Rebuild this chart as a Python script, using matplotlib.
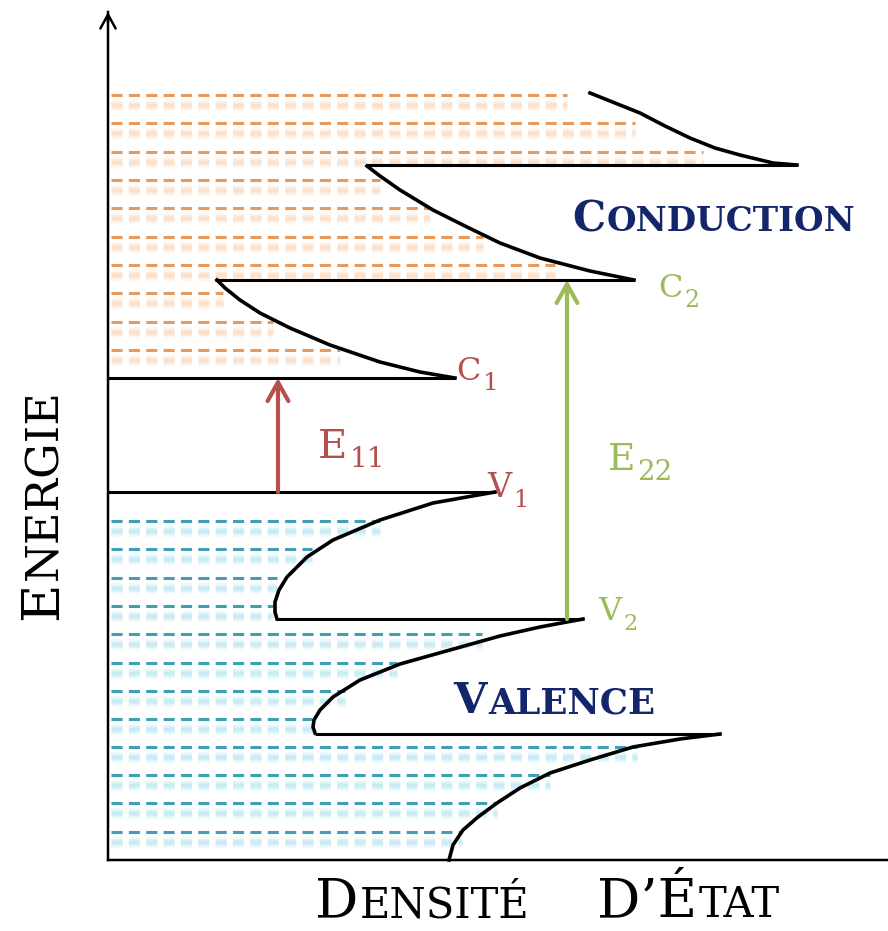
import matplotlib
matplotlib.use("Agg")
import matplotlib.pyplot as plt
from matplotlib import patheffects as pe
from matplotlib.transforms import IdentityTransform

plt.rcParams['font.family'] = ['DejaVu Serif']
plt.rcParams['lines.scale_dashes'] = False

# ---------------- data (x = densité d'état, y = énergie) ----------------
# conduction sub-bands: level energy, start of level line, DOS curve (tip first)
c_levels = [482, 580, 695]
c_level_starts = [0, 107, 258]
c1_x = [347, 312, 272, 222, 182, 152, 132, 117, 109]
c1_y = [482, 488, 498, 515, 532, 547, 560, 572, 580]
c2_x = [526, 482, 432, 392, 359, 325, 292, 272, 259]
c2_y = [580, 589, 602, 617, 633, 650, 670, 684, 694]
c3_x = [689, 665, 632, 607, 582, 557, 532, 507, 482]
c3_y = [695, 697, 705, 712, 722, 734, 747, 757, 767]

# valence sub-bands
v_levels = [368, 241, 126]
v_level_starts = [0, 169, 207]
v1_x = [387, 325, 272, 225, 199, 179, 171, 167, 167, 169]
v1_y = [368, 357, 340, 320, 303, 283, 270, 258, 248, 241]
v2_x = [475, 432, 392, 342, 292, 252, 225, 212, 206, 205, 207]
v2_y = [241, 233, 224, 210, 196, 180, 163, 150, 140, 133, 127]
v3_x = [612, 572, 525, 482, 442, 412, 389, 370, 355, 345, 341]
v3_y = [126, 121, 113, 100, 87, 72, 57, 43, 30, 15, 0]

# occupied states (dashed rows)
cond_rows_y = [765, 737, 708, 680, 652, 623, 595, 567, 538, 510]
cond_rows_end = [459, 527, 595, 272, 322, 375, 447, 115, 165, 232]
val_rows_y = [339, 311, 282, 254, 226, 197, 169, 141, 113, 85, 57, 28]
val_rows_end = [272, 204, 169, 165, 374, 289, 237, 204, 529, 442, 389, 354]

# transitions
e11_x, e11_from, e11_to = 170, 368, 482
e22_x, e22_from, e22_to = 459, 241, 580

# level labels: letter, index
label_main = ['C', 'C', 'V', 'V', 'E', 'E']
label_sub = ['1', '2', '1', '2', '11', '22']

RED = '#B5504D'
GREEN = '#9BBB59'
NAVY = '#13266B'
ORANGE = '#E89A5C'
ORANGE_SH = '#F8BC8C'
TEAL = '#3E9FB5'
TEAL_SH = '#86D3E8'

fig = plt.figure(figsize=(8.88, 9.31), dpi=100)
ax = fig.add_axes([108 / 888, 71 / 931, 780 / 888, 848 / 931])
ax.set_xlim(0, 780)
ax.set_ylim(0, 848)
ax.patch.set_visible(False)
for s in ['top', 'right']:
    ax.spines[s].set_visible(False)
for s in ['left', 'bottom']:
    ax.spines[s].set_linewidth(1.8)
    ax.spines[s].set_snap(False)
ax.set_xticks([])
ax.set_yticks([])

ax.annotate('', xy=(0, 848), xytext=(0, 838),
            arrowprops=dict(arrowstyle='->,head_length=1.0,head_width=0.55',
                            lw=1.8, color='black', shrinkA=0, shrinkB=0),
            annotation_clip=False)


def dashed_rows(ys, ends, color, shadow):
    for y, e in zip(ys, ends):
        ax.plot([3, e], [y, y], color=color, lw=2.2, dashes=(8, 4.5),
                solid_capstyle='butt', zorder=1,
                path_effects=[pe.SimpleLineShadow(offset=(0, -7), shadow_color=shadow,
                                                  alpha=0.12, linewidth=8),
                              pe.SimpleLineShadow(offset=(0, -7), shadow_color=shadow,
                                                  alpha=0.18, linewidth=5),
                              pe.SimpleLineShadow(offset=(0, -7), shadow_color=shadow,
                                                  alpha=0.22, linewidth=2.5),
                              pe.Normal()])


dashed_rows(cond_rows_y, cond_rows_end, ORANGE, ORANGE_SH)
dashed_rows(val_rows_y, val_rows_end, TEAL, TEAL_SH)

for lvl, st, cx, cy in zip(c_levels, c_level_starts, [c1_x, c2_x, c3_x], [c1_y, c2_y, c3_y]):
    ax.plot([st, cx[0]], [lvl, lvl], color='black', lw=2.2, zorder=3, solid_capstyle='butt')
    ax.plot(cx, cy, color='black', lw=2.6, zorder=3, solid_joinstyle='round')
for lvl, st, vx, vy in zip(v_levels, v_level_starts, [v1_x, v2_x, v3_x], [v1_y, v2_y, v3_y]):
    ax.plot([st, vx[0]], [lvl, lvl], color='black', lw=2.2, zorder=3, solid_capstyle='butt')
    ax.plot(vx, vy, color='black', lw=2.6, zorder=3, clip_on=False, solid_joinstyle='round')

for x, y0, y1, col in [(e11_x, e11_from, e11_to, RED), (e22_x, e22_from, e22_to, GREEN)]:
    ax.annotate('', xy=(x, y1), xytext=(x, y0),
                arrowprops=dict(arrowstyle='->,head_length=1.35,head_width=0.75',
                                lw=3, color=col, shrinkA=0, shrinkB=0), zorder=4)

renderer = fig.canvas.get_renderer()


def pieces(parts, x, y, color, weight='normal', rotation=0, gap=1.5):
    """Place text pieces one after another (display pixels); parts = (text, size, dy)."""
    for s, size, dy in parts:
        t = fig.text(x, y + dy, s, transform=IdentityTransform(), fontsize=size,
                     color=color, fontweight=weight, rotation=rotation,
                     rotation_mode='anchor', ha='left', va='baseline')
        bb = t.get_window_extent(renderer)
        if rotation == 90:
            y += bb.height + gap
        else:
            x += bb.width + gap


# positions / styles of the level labels
label_pos = [(348, 480), (550, 563), (379, 363), (490, 240), (210, 402), (500, 390)]
label_col = [RED, GREEN, RED, GREEN, RED, GREEN]
label_size = [23, 23, 24, 23, 29, 27]
label_subsize = [18, 17, 17, 16, 20, 20]
label_drop = [10, 10, 10, 10, 9, 10]
for m, sb, (x, y), col, sz, ssz, dr in zip(label_main, label_sub, label_pos, label_col,
                                           label_size, label_subsize, label_drop):
    px = ax.transData.transform((x, y))
    pieces([(m, sz, 0), (sb, ssz, -dr)], px[0], px[1], col, gap=2)

px = ax.transData.transform((464, 629))
pieces([('C', 30, 0), ('ONDUCTION', 24.5, 0)], px[0], px[1], NAVY, weight='bold')
px = ax.transData.transform((345, 147))
pieces([('V', 31, 0), ('ALENCE', 25.5, 0)], px[0], px[1], NAVY, weight='bold')

pieces([('E', 38, 0), ('NERGIE', 32, 0)], 57, 931 - 620, 'black', rotation=90)
pieces([('D', 39, 0), ('ENSITÉ', 30, 0)], 315, 931 - 917, 'black')
pieces([('D’É', 39, 0), ('TAT', 30, 0)], 597, 931 - 917, 'black')

fig.savefig('out.png', dpi=100)
